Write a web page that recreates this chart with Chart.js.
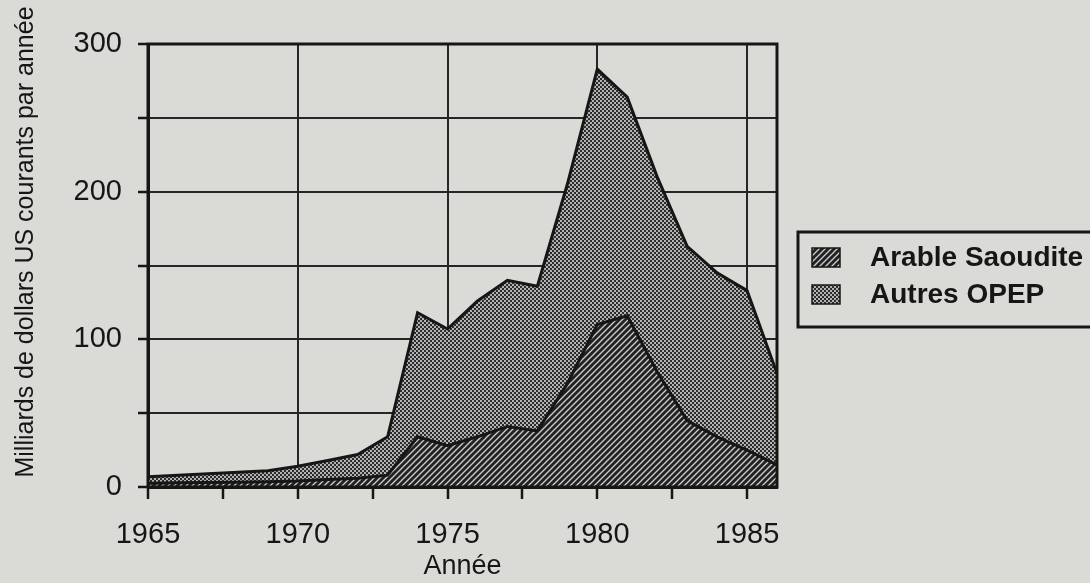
<!DOCTYPE html>
<html>
<head>
<meta charset="utf-8">
<script src="https://cdn.jsdelivr.net/npm/chart.js@4.4.1/dist/chart.umd.min.js"></script>
<style>
  html, body { margin: 0; padding: 0; background: #dadad7; }
  #wrap { width: 1090px; height: 583px; }
</style>
</head>
<body>
<div id="wrap"><canvas id="opepChart" width="1090" height="583"></canvas></div>
<script>
// annees et revenus (milliards de dollars US courants)
var annees = [1965, 1966, 1967, 1968, 1969, 1970, 1971, 1972, 1973, 1974, 1975,
              1976, 1977, 1978, 1979, 1980, 1981, 1982, 1983, 1984, 1985, 1986];
var arabieSaoudite = [2.5, 2.8, 3, 3.3, 3.6, 4, 5, 6, 8, 34, 28,
                      34, 41, 38, 70, 110, 116, 78, 45, 34, 25, 15];
var autresOpep = [4.5, 5.2, 6, 6.7, 7.4, 10, 13, 16, 26, 84, 79,
                  92, 99, 98, 135, 173, 148, 132, 118, 111, 108, 62];
var yTicks = [0, 100, 200, 300];
var xTicks = [1965, 1970, 1975, 1980, 1985];

var ink = '#161616';

function hatchPattern() {
  var c = document.createElement('canvas');
  c.width = 6; c.height = 6;
  var g = c.getContext('2d');
  g.fillStyle = '#222';
  g.fillRect(0, 0, 6, 6);
  g.strokeStyle = '#cfcfcf';
  g.lineWidth = 1.3;
  g.beginPath();
  g.moveTo(-1, 7); g.lineTo(7, -1);
  g.moveTo(-4, 4); g.lineTo(4, -4);
  g.moveTo(2, 10); g.lineTo(10, 2);
  g.stroke();
  return g.createPattern(c, 'repeat');
}

function dotPattern() {
  var c = document.createElement('canvas');
  c.width = 4; c.height = 4;
  var g = c.getContext('2d');
  g.fillStyle = '#2c2c2c';
  g.fillRect(0, 0, 4, 4);
  g.fillStyle = '#b2b2b2';
  g.fillRect(0, 0, 2, 2);
  g.fillRect(2, 2, 2, 2);
  return g.createPattern(c, 'repeat');
}

function points(vals) {
  var out = [];
  for (var i in annees) {
    out.push({ x: annees[i], y: vals[i] });
  }
  return out;
}

var extras = {
  id: 'extras',
  afterDatasetsDraw: function(chart) {
    var a = chart.chartArea, ctx = chart.ctx;
    ctx.save();
    ctx.strokeStyle = ink;
    ctx.lineWidth = 3;
    ctx.strokeRect(a.left, a.top, a.right - a.left, a.bottom - a.top);
    ctx.restore();
  },
  afterDraw: function(chart) {
    var ctx = chart.ctx;
    ctx.save();
    // titre de l'axe vertical
    ctx.translate(26, 242);
    ctx.rotate(-Math.PI / 2);
    ctx.fillStyle = ink;
    ctx.font = '25px "Liberation Sans", Arial, sans-serif';
    ctx.textAlign = 'center';
    ctx.textBaseline = 'middle';
    ctx.fillText('Milliards de dollars US courants par année', 0, 0);
    ctx.restore();

    // legende
    ctx.save();
    ctx.strokeStyle = ink;
    ctx.lineWidth = 3;
    ctx.strokeRect(798, 232, 310, 95);
    ctx.font = 'bold 28px "Liberation Sans", Arial, sans-serif';
    ctx.textBaseline = 'middle';
    chart.data.datasets.forEach(function(ds, i) {
      var y = 248 + i * 37;
      ctx.fillStyle = ds.backgroundColor;
      ctx.fillRect(812, y, 28, 19);
      ctx.lineWidth = 1.5;
      ctx.strokeRect(812, y, 28, 19);
      ctx.fillStyle = ink;
      ctx.fillText(ds.label, 870, y + 10);
    });
    ctx.restore();
  }
};

var ctx = document.getElementById('opepChart');

var areaChart = new Chart(ctx, {
  type: 'line',
  data: {
    datasets: [
      {
        label: 'Arable Saoudite',
        data: points(arabieSaoudite),
        backgroundColor: hatchPattern(),
        borderColor: ink,
        borderWidth: 3,
        fill: 'origin',
        pointRadius: 0,
        tension: 0
      },
      {
        label: 'Autres OPEP',
        data: points(autresOpep),
        backgroundColor: dotPattern(),
        borderColor: ink,
        borderWidth: 3,
        fill: '-1',
        pointRadius: 0,
        tension: 0
      }
    ]
  },
  options: {
    responsive: false,
    animation: false,
    layout: { padding: { left: 0, right: 313, top: 44, bottom: 0 } },
    plugins: {
      legend: { display: false },
      tooltip: { enabled: false }
    },
    scales: {
      x: {
        type: 'linear',
        min: annees[0],
        max: annees[annees.length - 1],
        afterBuildTicks: function(scale) {
          var t = [];
          for (var v = annees[0]; v <= 1985; v += 2.5) t.push({ value: v });
          scale.ticks = t;
        },
        afterFit: function(scale) { scale.height = 96; },
        grid: {
          color: function(c) {
            return (c.tick && xTicks.indexOf(c.tick.value) >= 0) ? '#262626' : 'rgba(0,0,0,0)';
          },
          tickColor: ink,
          lineWidth: 2,
          tickWidth: 2.5,
          tickLength: 12,
          borderDash: [2, 2]
        },
        border: { color: ink, width: 3 },
        ticks: {
          autoSkip: false,
          maxRotation: 0,
          padding: 19,
          color: ink,
          font: { family: '"Liberation Sans", Arial, sans-serif', size: 29 },
          callback: function(v) { return xTicks.indexOf(v) >= 0 ? String(v) : ''; }
        },
        title: {
          display: true,
          text: 'Année',
          color: ink,
          padding: { top: 0, bottom: 0 },
          font: { family: '"Liberation Sans", Arial, sans-serif', size: 27 }
        }
      },
      y: {
        stacked: true,
        min: 0,
        max: 300,
        afterFit: function(scale) { scale.width = 148; },
        grid: {
          color: '#262626',
          tickColor: ink,
          lineWidth: 2,
          tickWidth: 2.5,
          tickLength: 10,
          borderDash: [2, 2]
        },
        border: { color: ink, width: 3 },
        ticks: {
          stepSize: 50,
          padding: 16,
          color: ink,
          font: { family: '"Liberation Sans", Arial, sans-serif', size: 29 },
          callback: function(v) { return yTicks.indexOf(v) >= 0 ? String(v) : ''; }
        }
      }
    }
  },
  plugins: [extras]
});
</script>
</body>
</html>
